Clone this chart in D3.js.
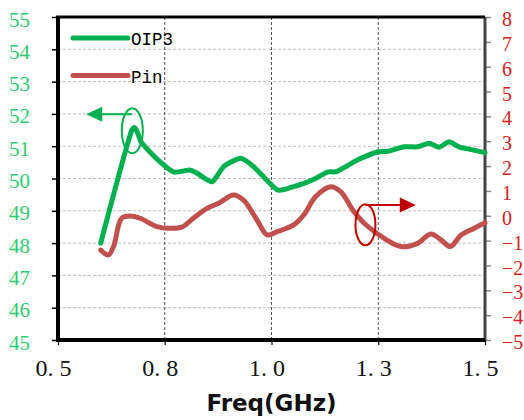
<!DOCTYPE html>
<html>
<head>
<meta charset="utf-8">
<script src="https://cdn.jsdelivr.net/npm/d3@7"></script>
<style>
  body { margin: 0; background: #fff; }
  svg { display: block; }
</style>
</head>
<body>
<div id="chart"></div>
<script>
// ====== data ======
var freq = [0.6, 0.673, 0.696, 0.732, 0.771, 0.807, 0.826, 0.861, 0.888,
            0.927, 0.958, 1.013, 1.052, 1.076, 1.103, 1.131, 1.154, 1.201, 1.248, 1.272,
            1.311, 1.342, 1.369, 1.393, 1.416, 1.44, 1.463, 1.5];
var oip3 = [48.0, 51.5, 51.1, 50.6, 50.2, 50.26, 50.16, 49.9, 50.37,
            50.63, 50.37, 49.65, 49.75, 49.85, 50.0, 50.2, 50.22, 50.57, 50.82, 50.84,
            50.98, 50.98, 51.09, 50.97, 51.14, 50.97, 50.91, 50.8];

var freqPin = [0.6, 0.618, 0.63, 0.649, 0.669, 0.692, 0.732, 0.755, 0.79, 0.817, 0.849, 0.876,
               0.911, 0.934, 0.966, 0.99, 1.013, 1.052, 1.076, 1.103, 1.139, 1.162, 1.193,
               1.217, 1.264, 1.303, 1.342, 1.373, 1.397, 1.419, 1.444, 1.475, 1.5];
var pin = [-1.38, -1.58, -1.24, -0.1, -0.01, -0.1, -0.44, -0.5, -0.46, -0.1, 0.3, 0.5,
           0.84, 0.64, -0.17, -0.77, -0.64, -0.37, 0.04, 0.77, 1.17, 0.97, 0.17,
           -0.3, -0.91, -1.24, -1.11, -0.73, -0.97, -1.24, -0.77, -0.5, -0.28];

var xTicks = [0.5, 0.75, 1.0, 1.25, 1.5];
var xTickLabels = ["0. 5", "0. 8", "1. 0", "1. 3", "1. 5"];
var leftTicks = d3.range(45, 56);
var rightTicks = d3.range(-5, 9);
var seriesNames = ["OIP3", "Pin"];

// annotation marks (data coordinates)
var greenMark = { f: 0.674, v: 51.48, arrowTo: 0.566 };
var redMark = { f: 1.22, v: -0.36, arrowTo: 1.338 };

// ====== layout ======
var svgWidth = 524, svgHeight = 420;
var margin = { top: 17, right: 39, bottom: 80, left: 58 };
var chartWidth = svgWidth - margin.left - margin.right;
var chartHeight = svgHeight - margin.top - margin.bottom;

var green = "#00b050", red = "#c0504d";

var svg = d3.select("#chart").append("svg")
    .attr("width", svgWidth)
    .attr("height", svgHeight);

var chartGroup = svg.append("g")
    .attr("transform", `translate(${margin.left}, ${margin.top})`);

var xScale = d3.scaleLinear().domain([0.5, 1.5]).range([0, chartWidth]);
var yLeft = d3.scaleLinear().domain([45, 55]).range([chartHeight, 0]);
var yRight = d3.scaleLinear().domain([-5, 8]).range([chartHeight, 0]);

// grid lines
chartGroup.append("g").selectAll("line")
    .data(leftTicks.filter(d => d > 45 && d < 55))
    .enter().append("line")
    .attr("x1", 0).attr("x2", chartWidth)
    .attr("y1", d => yLeft(d)).attr("y2", d => yLeft(d))
    .attr("stroke", "#bdbdbd")
    .attr("stroke-width", 1)
    .attr("stroke-dasharray", "3,2");

chartGroup.append("g").selectAll("line")
    .data(xTicks.slice(1, -1))
    .enter().append("line")
    .attr("x1", d => xScale(d)).attr("x2", d => xScale(d))
    .attr("y1", 0).attr("y2", chartHeight)
    .attr("stroke", "#555")
    .attr("stroke-width", 1)
    .attr("stroke-dasharray", "3,2");

// left axis
var leftAxis = d3.axisLeft(yLeft).tickValues(leftTicks).tickSize(6).tickPadding(22);
var gLeft = chartGroup.append("g").call(leftAxis);
gLeft.select(".domain").remove();
gLeft.selectAll(".tick line").attr("stroke", "#000").attr("stroke-width", 1.5);
gLeft.selectAll(".tick text")
    .attr("fill", "#2ecc71")
    .attr("font-family", "'Liberation Serif', serif")
    .attr("font-size", 21)
    .attr("dy", "0.43em");

// right axis
var rightAxis = d3.axisRight(yRight).tickValues(rightTicks).tickSize(6).tickPadding(11);
var gRight = chartGroup.append("g")
    .attr("transform", `translate(${chartWidth}, 0)`)
    .call(rightAxis);
gRight.select(".domain").remove();
gRight.selectAll(".tick line").attr("stroke", "#888").attr("stroke-width", 1.5);
gRight.selectAll(".tick text")
    .attr("fill", "#d42020")
    .attr("font-family", "'Liberation Serif', serif")
    .attr("font-size", 20)
    .attr("dy", "0.43em");

// bottom axis
var bottomAxis = d3.axisBottom(xScale).tickValues(xTicks)
    .tickFormat((d, i) => xTickLabels[i]).tickSize(5).tickPadding(14);
var gBottom = chartGroup.append("g")
    .attr("transform", `translate(0, ${chartHeight})`)
    .call(bottomAxis);
gBottom.select(".domain").remove();
gBottom.selectAll(".tick line").attr("stroke", "#000").attr("stroke-width", 1.2);
gBottom.selectAll(".tick text")
    .attr("fill", "#111")
    .attr("font-family", "'Liberation Serif', serif")
    .attr("font-size", 24)
    .attr("dx", -5);

// frame
chartGroup.append("line").attr("x1", chartWidth).attr("x2", chartWidth)
    .attr("y1", 0).attr("y2", chartHeight)
    .attr("stroke", "#444").attr("stroke-width", 3);
chartGroup.append("line").attr("x1", -2).attr("x2", chartWidth)
    .attr("y1", 0).attr("y2", 0)
    .attr("stroke", "#000").attr("stroke-width", 3);
chartGroup.append("line").attr("x1", 0).attr("x2", 0)
    .attr("y1", 0).attr("y2", chartHeight)
    .attr("stroke", "#000").attr("stroke-width", 4);
chartGroup.append("line").attr("x1", -2).attr("x2", chartWidth)
    .attr("y1", chartHeight).attr("y2", chartHeight)
    .attr("stroke", "#000").attr("stroke-width", 4);

// series
var greenLine = d3.line()
    .x((d, i) => xScale(freq[i]))
    .y(d => yLeft(d))
    .curve(d3.curveCardinal.tension(0.45));
var redLine = d3.line()
    .x((d, i) => xScale(freqPin[i]))
    .y(d => yRight(d))
    .curve(d3.curveCatmullRom.alpha(0.5));

chartGroup.append("path").datum(pin)
    .attr("d", redLine)
    .attr("fill", "none").attr("stroke", red)
    .attr("stroke-width", 5).attr("stroke-linejoin", "round").attr("stroke-linecap", "round");
chartGroup.append("path").datum(oip3)
    .attr("d", greenLine)
    .attr("fill", "none").attr("stroke", green)
    .attr("stroke-width", 5).attr("stroke-linejoin", "round").attr("stroke-linecap", "round");

// annotations
function drawMark(cx, cy, rx, ry, x1, x2, lineY, color, dir) {
    chartGroup.append("ellipse")
        .attr("cx", cx).attr("cy", cy).attr("rx", rx).attr("ry", ry)
        .attr("fill", "none").attr("stroke", color).attr("stroke-width", 2);
    chartGroup.append("line")
        .attr("x1", x1).attr("x2", x2 - dir * 14).attr("y1", lineY).attr("y2", lineY)
        .attr("stroke", color).attr("stroke-width", 2);
    chartGroup.append("path")
        .attr("d", `M${x2},${lineY} L${x2 - dir * 16},${lineY - 7.5} L${x2 - dir * 16},${lineY + 7.5} Z`)
        .attr("fill", color);
}
var gcx = xScale(greenMark.f), gcy = yLeft(greenMark.v);
drawMark(gcx, gcy, 10.5, 22.5, gcx, xScale(greenMark.arrowTo), gcy - 16.5, green, -1);
var rcx = xScale(redMark.f), rcy = yRight(redMark.v);
drawMark(rcx, rcy, 10, 20.5, rcx, xScale(redMark.arrowTo), rcy - 19.7, "#c00000", 1);

// legend
var legend = chartGroup.append("g").selectAll("g")
    .data(seriesNames)
    .enter().append("g")
    .attr("transform", (d, i) => `translate(15, ${21 + i * 37.5})`);
legend.append("line")
    .attr("x1", 0).attr("x2", 55).attr("y1", 0).attr("y2", 0)
    .attr("stroke", (d, i) => i === 0 ? green : red)
    .attr("stroke-width", 5).attr("stroke-linecap", "round");
legend.append("text")
    .attr("x", 58).attr("y", 7)
    .attr("font-family", "'Liberation Mono', monospace")
    .attr("font-size", 17.5)
    .attr("fill", "#000")
    .text(d => d);

// x axis title
svg.append("text")
    .attr("x", margin.left + chartWidth / 2)
    .attr("y", 411)
    .attr("text-anchor", "middle")
    .attr("font-family", "'DejaVu Sans', sans-serif")
    .attr("font-weight", "bold")
    .attr("font-size", 23)
    .attr("fill", "#111")
    .text("Freq(GHz)");
</script>
</body>
</html>
